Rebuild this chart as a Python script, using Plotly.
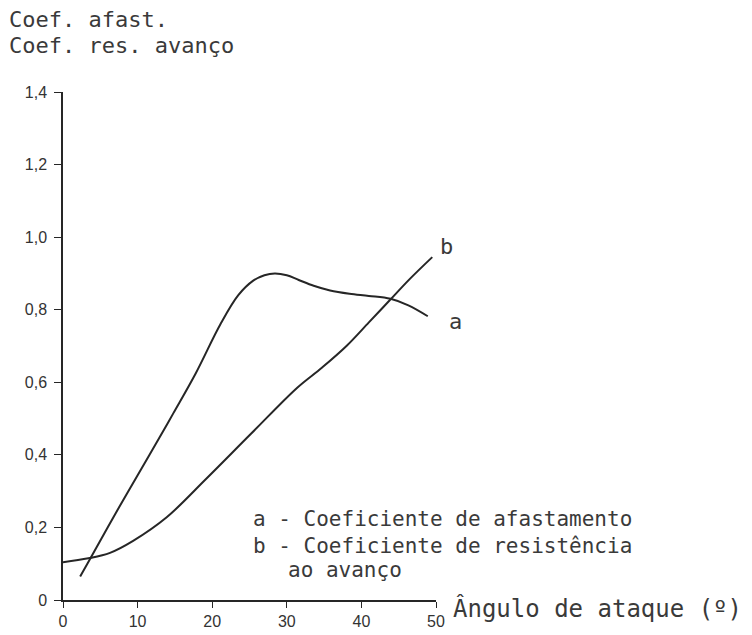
import plotly.graph_objects as go

# Curve a - Coeficiente de afastamento
a_x = [2.3, 3.4, 7.5, 11.6, 14.8, 17.8, 21.1, 23.5, 25.5, 27.0, 28.4, 30.0, 31.6, 33.6, 35.8, 38.4, 41.0, 43.9, 46.3, 48.9]
a_y = [0.065, 0.105, 0.255, 0.40, 0.515, 0.625, 0.76, 0.84, 0.88, 0.895, 0.90, 0.895, 0.882, 0.866, 0.853, 0.844, 0.838, 0.830, 0.812, 0.782]

# Curve b - Coeficiente de resistência ao avanço
b_x = [0.0, 3.4, 6.3, 9.4, 13.9, 19.1, 25.2, 31.4, 34.7, 38.0, 41.0, 43.7, 46.5, 49.5]
b_y = [0.104, 0.115, 0.13, 0.163, 0.228, 0.332, 0.458, 0.585, 0.64, 0.70, 0.765, 0.824, 0.885, 0.945]

x_ticks = [0, 10, 20, 30, 40, 50]
x_ticktext = ["0", "10", "20", "30", "40", "50"]
y_ticks = [0, 0.2, 0.4, 0.6, 0.8, 1.0, 1.2, 1.4]
y_ticktext = ["0", "0,2", "0,4", "0,6", "0,8", "1,0", "1,2", "1,4"]

mono = "DejaVu Sans Mono"
ink = "#262626"
L, R, T, B = 55, 324, 84, 43
W, H = 752, 635

fig = go.Figure()
for xs, ys in [(a_x, a_y), (b_x, b_y)]:
    fig.add_trace(go.Scatter(x=xs, y=ys, mode="lines",
                             line=dict(color=ink, width=2, shape="spline", smoothing=1.0),
                             showlegend=False, hoverinfo="skip"))

fig.update_layout(
    width=W, height=H,
    margin=dict(l=L, r=R, t=T, b=B, autoexpand=False),
    paper_bgcolor="white", plot_bgcolor="white",
    xaxis=dict(range=[0, 50], tickvals=x_ticks, ticktext=x_ticktext, automargin=False,
               showline=True, linecolor=ink, linewidth=1.5, showgrid=False, zeroline=False,
               ticks="outside", ticklen=6, tickcolor=ink, tickwidth=1.2,
               tickfont=dict(family="Liberation Sans", size=16, color="#333")),
    yaxis=dict(range=[0, 1.4], tickvals=y_ticks, ticktext=y_ticktext, automargin=False,
               showline=True, linecolor=ink, linewidth=1.5, showgrid=False, zeroline=False,
               ticks="outside", ticklen=7, tickcolor=ink, tickwidth=1.2,
               ticklabelstandoff=4,
               tickfont=dict(family="Liberation Sans", size=16, color="#333")),
)

def px(xp, yp):
    return (xp - L) / (W - L - R), (H - B - yp) / (H - T - B)

def txt(xp, yp, s, size, xanchor="left"):
    x, y = px(xp, yp)
    fig.add_annotation(x=x, y=y, xref="paper", yref="paper", text=s, showarrow=False,
                       xanchor=xanchor, yanchor="middle", borderpad=0,
                       font=dict(family=mono, size=size, color="#3a3a3a"))

txt(0, 11, "Coef. afast.", 22)
txt(0, 38, "Coef. res. avanço", 22)

txt(244, 511, "a - Coeficiente de afastamento", 21)
txt(244, 538, "b - Coeficiente de resistência", 21)
txt(279, 562, "ao avanço", 21)

txt(444, 600, "Ângulo de ataque (º)", 24)

txt(447, 313, "a", 22, "center")
txt(438, 238, "b", 22, "center")

fig.write_html("out.html")
